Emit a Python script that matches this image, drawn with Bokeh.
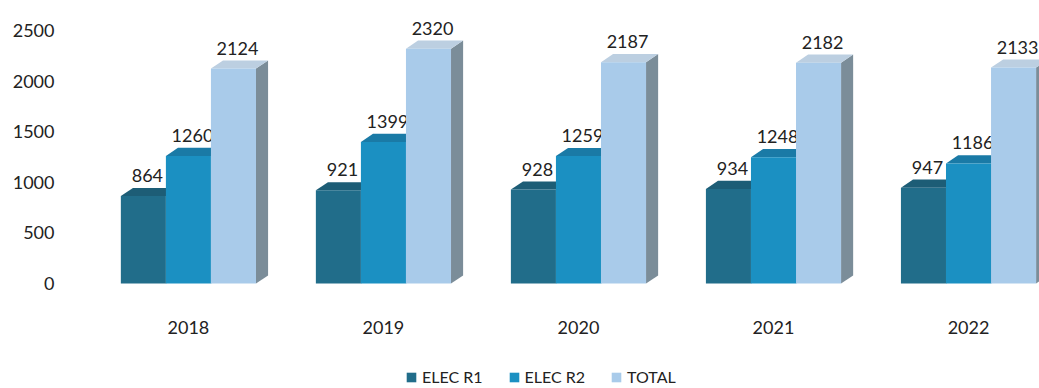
from bokeh.plotting import figure
from bokeh.layouts import column
from bokeh.models import ColumnDataSource, Range1d, FixedTicker, Legend, LegendItem
from bokeh.core.properties import value
from bokeh.embed import file_html
from bokeh.resources import INLINE

years = ["2018", "2019", "2020", "2021", "2022"]
elec_r1 = [864, 921, 928, 934, 947]
elec_r2 = [1260, 1399, 1259, 1248, 1186]
total = [2124, 2320, 2187, 2182, 2133]
series_names = ["ELEC R1", "ELEC R2", "TOTAL"]
y_ticks = [0, 500, 1000, 1500, 2000, 2500]

FONT = "Lato"
bar_w = 0.231
dx = 0.062   # depth offset in x (data units)
dy = 80      # depth offset in y (data units)

styles = [
    dict(front="#216d8a", top="#1d5d76", side="#174b60"),
    dict(front="#1b90c2", top="#1a7aa6", side="#156a90"),
    dict(front="#a9cbea", top="#bccfe1", side="#7b8d99"),
]

p = figure(frame_width=964, frame_height=292, output_backend="svg", toolbar_location=None,
           x_range=Range1d(-0.579, 4.364), y_range=Range1d(-168, 2717),
           min_border_left=75, min_border_right=0, min_border_top=8, min_border_bottom=0,
           outline_line_color=None, background_fill_color="white", border_fill_color="white")

for k, (vals, st) in enumerate(zip([elec_r1, elec_r2, total], styles)):
    off = (k - 1) * bar_w
    xc = [i + off for i in range(len(years))]
    x0 = [x - bar_w / 2 for x in xc]
    x1 = [x + bar_w / 2 for x in xc]
    side_xs = [[a, a + dx, a + dx, a] for a in x1]
    side_ys = [[0, dy, v + dy, v] for v in vals]
    top_xs = [[a, b, b + dx, a + dx] for a, b in zip(x0, x1)]
    top_ys = [[v, v, v + dy, v + dy] for v in vals]
    p.patches(side_xs, side_ys, fill_color=st["side"], line_color=None)
    p.patches(top_xs, top_ys, fill_color=st["top"], line_color=None)
    src = ColumnDataSource(dict(x=xc, top=vals, lbl=[str(v) for v in vals],
                                lx=[x + dx / 3 for x in xc]))
    p.vbar(x="x", top="top", bottom=0, width=bar_w, source=src,
           fill_color=st["front"], line_color=None)
    p.text(x="lx", y="top", text="lbl", source=src, text_align="center",
           text_baseline="bottom", y_offset=-14, text_font=value(FONT),
           text_font_size="18px", text_color="#222222")

p.xaxis.ticker = FixedTicker(ticks=list(range(len(years))))
p.xaxis.major_label_overrides = {i: y for i, y in enumerate(years)}
p.yaxis.ticker = FixedTicker(ticks=y_ticks)
for ax in [p.xaxis, p.yaxis]:
    ax.axis_line_color = None
    ax.major_tick_line_color = None
    ax.minor_tick_line_color = None
    ax.major_label_text_font = FONT
    ax.major_label_text_font_size = "18px"
    ax.major_label_text_color = "#222222"
p.xaxis.major_label_standoff = 14
p.yaxis.major_label_standoff = 15
p.grid.grid_line_color = None

# legend strip (series renderers hidden; only their legend entries show)
lg = figure(width=1039, height=50, output_backend="svg", toolbar_location=None,
            x_range=Range1d(100, 101), y_range=Range1d(10000, 10001),
            x_axis_type=None, y_axis_type=None,
            min_border=0, min_border_left=0, min_border_right=0, min_border_top=0,
            min_border_bottom=0, outline_line_color=None, background_fill_color="white",
            border_fill_color="white")
items = []
for name, vals, st in zip(series_names, [elec_r1, elec_r2, total], styles):
    r = lg.vbar(x=list(range(len(years))), top=vals, width=bar_w,
                fill_color=st["front"], line_color=None)
    r.visible = False
    items.append(LegendItem(label=name, renderers=[r]))
lg.grid.grid_line_color = None
legend = Legend(items=items, orientation="horizontal", location=(330, 0),
                glyph_width=12, glyph_height=12, label_standoff=5, spacing=25,
                padding=0, margin=0, border_line_color=None, background_fill_alpha=0,
                label_text_font=FONT, label_text_font_size="16px", label_text_color="#222222")
lg.add_layout(legend, "center")

layout = column(p, lg, spacing=0)
open("out.html", "w").write(file_html(layout, INLINE))
